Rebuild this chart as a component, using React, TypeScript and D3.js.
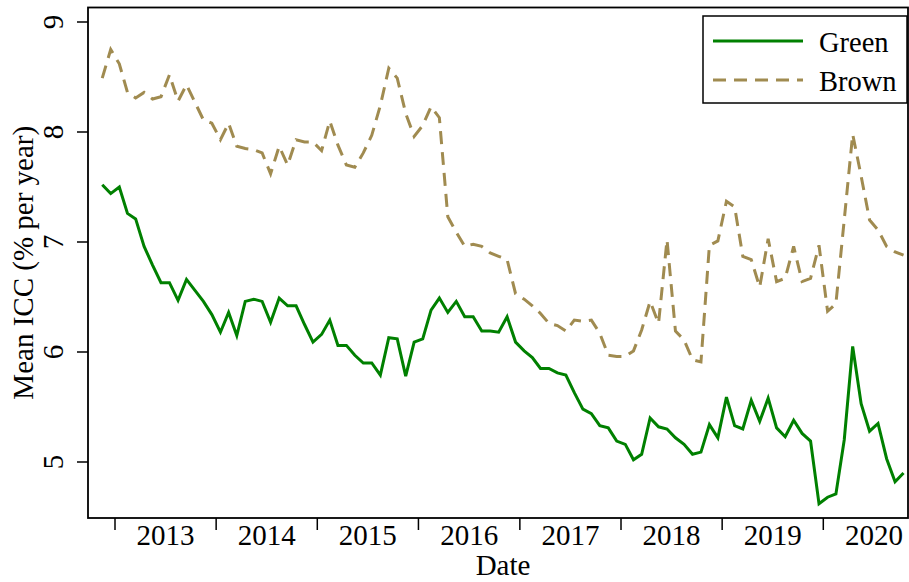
import React from 'react';
import * as d3 from 'd3';

// Monthly series, first observation November 2012, last October 2020
const startYear = 2012;
const startMonth = 10; // 0-based month index (November)

const green = [
  7.52, 7.44, 7.50, 7.26, 7.21, 6.96, 6.79, 6.63, 6.63, 6.47,
  6.66, 6.56, 6.46, 6.34, 6.18, 6.36, 6.15, 6.46, 6.48, 6.46,
  6.27, 6.49, 6.42, 6.42, 6.25, 6.09, 6.16, 6.29, 6.06, 6.06,
  5.97, 5.90, 5.90, 5.79, 6.13, 6.12, 5.78, 6.09, 6.12, 6.38,
  6.49, 6.36, 6.46, 6.32, 6.32, 6.19, 6.19, 6.18, 6.32, 6.09,
  6.01, 5.95, 5.85, 5.85, 5.81, 5.79, 5.63, 5.48, 5.44, 5.33,
  5.31, 5.19, 5.16, 5.02, 5.07, 5.40, 5.32, 5.30, 5.22, 5.16,
  5.07, 5.09, 5.34, 5.22, 5.59, 5.33, 5.30, 5.56, 5.37, 5.58,
  5.31, 5.23, 5.38, 5.26, 5.19, 4.62, 4.68, 4.71, 5.20, 6.05,
  5.53, 5.28, 5.35, 5.03, 4.82, 4.90,
];

const brown = [
  8.49, 8.75, 8.62, 8.36, 8.31, 8.36, 8.30, 8.32, 8.52, 8.28,
  8.43, 8.27, 8.11, 8.08, 7.93, 8.08, 7.87, 7.85, 7.84, 7.81,
  7.62, 7.87, 7.70, 7.93, 7.91, 7.91, 7.83, 8.10, 7.88, 7.70,
  7.68, 7.81, 7.97, 8.24, 8.58, 8.49, 8.17, 7.96, 8.06, 8.23,
  8.13, 7.23, 7.09, 6.96, 6.98, 6.96, 6.90, 6.87, 6.84, 6.53,
  6.48, 6.42, 6.35, 6.26, 6.24, 6.19, 6.29, 6.28, 6.29, 6.17,
  5.97, 5.96, 5.96, 6.01, 6.20, 6.46, 6.26, 7.02, 6.19, 6.11,
  5.93, 5.91, 6.97, 7.01, 7.37, 7.32, 6.87, 6.84, 6.59, 7.03,
  6.64, 6.67, 6.96, 6.64, 6.67, 6.97, 6.37, 6.44, 7.20, 7.98,
  7.60, 7.20, 7.11, 6.96, 6.91, 6.88,
];

const years = [2013, 2014, 2015, 2016, 2017, 2018, 2019, 2020];
const yTicks = [5, 6, 7, 8, 9];
const seriesNames = ['Green', 'Brown'];
const seriesColors = ['#008000', '#a08b50'];

const FONT = '"Liberation Serif", "Times New Roman", Times, serif';

export default function App() {
  const W = 909;
  const H = 582;
  const plot = { left: 88, right: 908, top: 7.5, bottom: 518 };

  const x = d3
    .scaleUtc()
    .domain([new Date(Date.UTC(2013, 0, 1)), new Date(Date.UTC(2020, 0, 1))])
    .range([115, 823.3]);
  const y = d3.scaleLinear().domain([5, 9]).range([462, 22]);

  const dates = green.map((_, i) => {
    const a = new Date(Date.UTC(startYear, startMonth + i, 1));
    const b = new Date(Date.UTC(startYear, startMonth + i + 1, 1));
    return new Date((+a + +b) / 2);
  });

  const line = d3
    .line<number>()
    .x((_, i) => x(dates[i]))
    .y((d) => y(d));

  const yearStart = (yr: number) => new Date(Date.UTC(yr, 0, 1));

  return (
    <svg
      width={W}
      height={H}
      style={{ position: 'absolute', left: 0, top: 0, background: '#fff' }}
      fontFamily={FONT}
    >
      <rect x={0} y={0} width={W} height={H} fill="#fff" />
      {/* data lines */}
      <path
        d={line(green) || ''}
        fill="none"
        stroke={seriesColors[0]}
        strokeWidth={3}
        strokeLinejoin="miter"
      />
      <path
        d={line(brown) || ''}
        fill="none"
        stroke={seriesColors[1]}
        strokeWidth={3}
        strokeDasharray="13 8"
        strokeLinejoin="miter"
      />
      {/* frame */}
      <rect
        x={plot.left}
        y={plot.top}
        width={plot.right - plot.left}
        height={plot.bottom - plot.top}
        fill="none"
        stroke="#000"
        strokeWidth={1.8}
      />
      {/* y axis ticks & labels */}
      {yTicks.map((t) => (
        <g key={t}>
          <line x1={plot.left - 11} x2={plot.left} y1={y(t)} y2={y(t)} stroke="#000" strokeWidth={1.5} />
          <text
            transform={`translate(63,${y(t)}) rotate(-90)`}
            textAnchor="middle"
            fontSize={29}
            fill="#000"
          >
            {t}
          </text>
        </g>
      ))}
      {/* x axis ticks & labels */}
      {years.map((yr) => (
        <g key={yr}>
          <line
            x1={x(yearStart(yr))}
            x2={x(yearStart(yr))}
            y1={plot.bottom}
            y2={plot.bottom + 12}
            stroke="#000"
            strokeWidth={1.5}
          />
          <text
            x={(x(yearStart(yr)) + x(yearStart(yr + 1))) / 2}
            y={545}
            textAnchor="middle"
            fontSize={29}
            fill="#000"
          >
            {yr}
          </text>
        </g>
      ))}
      <text x={(plot.left + plot.right) / 2 + 5} y={575} textAnchor="middle" fontSize={29} fill="#000">
        Date
      </text>
      <text
        transform={`translate(33,${(plot.top + plot.bottom) / 2}) rotate(-90)`}
        textAnchor="middle"
        fontSize={29}
        fill="#000"
      >
        Mean ICC (% per year)
      </text>
      {/* legend */}
      <rect x={703} y={16} width={204} height={87} fill="#fff" stroke="#000" strokeWidth={1.5} />
      {seriesNames.map((name, i) => (
        <g key={name}>
          <line
            x1={713}
            x2={803}
            y1={41 + i * 39}
            y2={41 + i * 39}
            stroke={seriesColors[i]}
            strokeWidth={3}
            strokeDasharray={i === 1 ? '13 8' : undefined}
          />
          <text x={819} y={52 + i * 38.5} fontSize={28.5} fill="#000">
            {name}
          </text>
        </g>
      ))}
    </svg>
  );
}
